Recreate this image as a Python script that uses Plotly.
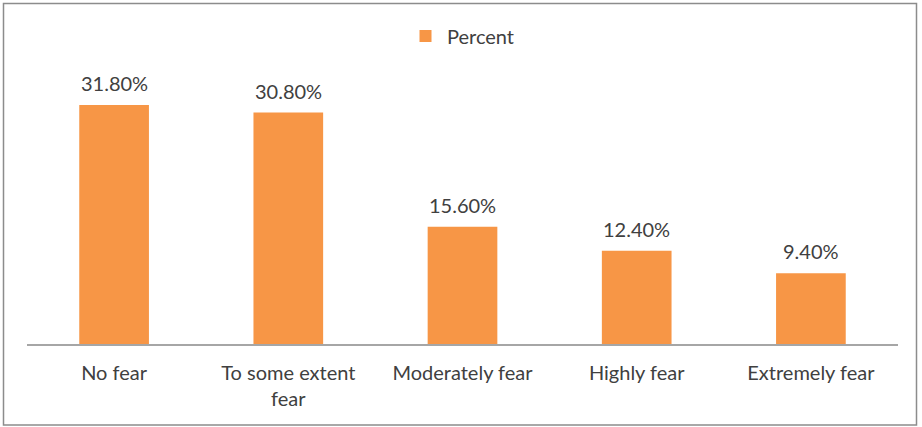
import plotly.graph_objects as go

categories = ["No fear", "To some extent<br>fear", "Moderately fear", "Highly fear", "Extremely fear"]
percent = [31.8, 30.8, 15.6, 12.4, 9.4]
series_name = "Percent"

W, H = 922, 427
L, R, T, B = 27, 24, 81, 83
bar_color = "#F79646"
text_color = "#404040"
font_family = "Lato"
font_size = 20

fig = go.Figure()
fig.add_trace(go.Bar(
    x=list(range(len(categories))),
    y=percent,
    name=series_name,
    marker=dict(color=bar_color, line=dict(width=0)),
    width=0.4,
    showlegend=True,
))

# value labels above each bar
for i, v in enumerate(percent):
    fig.add_annotation(x=i, y=v, xref="x", yref="y", text=f"{v:.2f}%",
                       showarrow=False, yanchor="middle", yshift=22,
                       font=dict(family=font_family, size=font_size, color=text_color))

pw = W - L - R
ph = H - T - B

def px_to_paper_x(px):
    return (px - L) / pw

def px_to_paper_y(py):
    return (H - B - py) / ph

# chart border
fig.add_shape(type="rect", xref="paper", yref="paper",
              x0=px_to_paper_x(3.5), x1=px_to_paper_x(916.5),
              y0=px_to_paper_y(425), y1=px_to_paper_y(3.5),
              line=dict(color="#8C8C8C", width=1.5), fillcolor="rgba(0,0,0,0)", layer="below")

fig.update_layout(
    width=W, height=H,
    margin=dict(l=L, r=R, t=T, b=B),
    paper_bgcolor="white", plot_bgcolor="white",
    font=dict(family=font_family, size=font_size, color=text_color),
    bargap=0.6,
    legend=dict(orientation="h", x=px_to_paper_x(462), xanchor="center", y=px_to_paper_y(36), yanchor="middle",
                font=dict(family=font_family, size=font_size, color=text_color),
                itemwidth=33),
    xaxis=dict(
        tickmode="array", tickvals=list(range(len(categories))), ticktext=categories,
        range=[-0.5, len(categories) - 0.5],
        showline=True, linecolor="#A6A6A6", linewidth=1.5,
        showgrid=False, zeroline=False, ticks="",
        tickfont=dict(family=font_family, size=font_size, color=text_color),
        ticklabelstandoff=10,
    ),
    yaxis=dict(range=[0, 35], visible=False, showgrid=False, zeroline=False),
)

fig.write_html("out.html")
